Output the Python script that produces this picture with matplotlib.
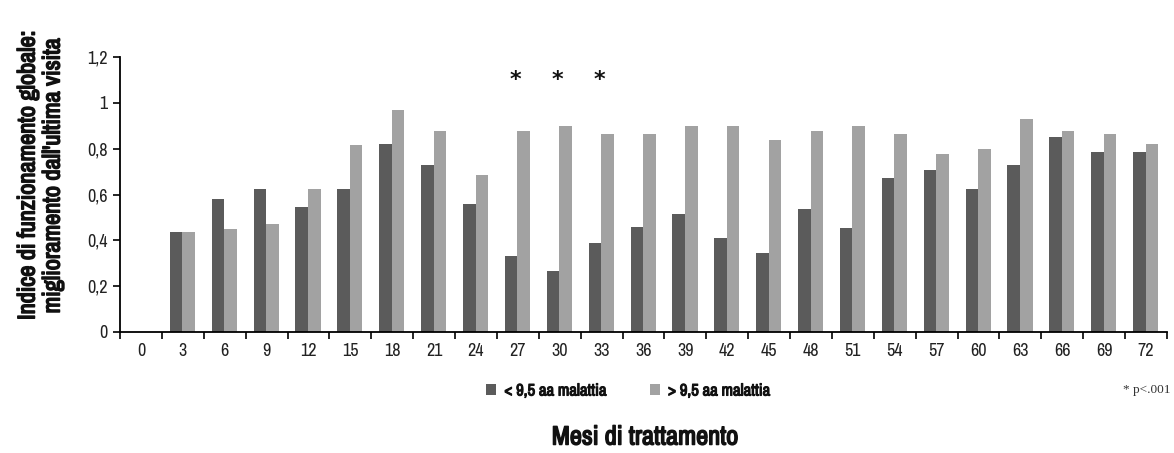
import matplotlib
matplotlib.use('Agg')
import matplotlib.pyplot as plt
import matplotlib.patheffects as pe
from matplotlib import font_manager
import numpy as np

months = [0, 3, 6, 9, 12, 15, 18, 21, 24, 27, 30, 33, 36, 39, 42, 45, 48, 51,
          54, 57, 60, 63, 66, 69, 72]
# < 9,5 anni di malattia
short = [0, 0.435, 0.58, 0.625, 0.545, 0.625, 0.82, 0.73, 0.56, 0.33, 0.265,
         0.39, 0.46, 0.515, 0.41, 0.345, 0.535, 0.455, 0.67, 0.705, 0.625,
         0.73, 0.85, 0.785, 0.785]
# > 9,5 anni di malattia
long_ = [0, 0.435, 0.45, 0.47, 0.625, 0.815, 0.97, 0.875, 0.685, 0.875, 0.90,
         0.865, 0.865, 0.90, 0.90, 0.84, 0.875, 0.90, 0.865, 0.775, 0.80,
         0.93, 0.875, 0.865, 0.82]
signif = [27, 30, 33]
yticks = [0, 0.2, 0.4, 0.6, 0.8, 1.0, 1.2]
ylabels = ['0', '0,2', '0,4', '0,6', '0,8', '1', '1,2']

# pick a condensed face if one is installed
names = sorted({f.name for f in font_manager.fontManager.ttflist})
cond = [n for n in names if 'Narrow' in n or 'Condensed' in n]
narrow = cond[:1] + ['DejaVu Sans']
stretch = 'condensed'
# the narrow face has no bold, so thicken it with a stroke
bold = [pe.withStroke(linewidth=1.1, foreground='#111111')]
dark = '#5b5b5b'
light = '#a2a2a2'

fig = plt.figure(figsize=(11.74, 4.53), dpi=100)
ax = fig.add_axes([120 / 1174, 1 - 332 / 453, 1047 / 1174, 275 / 453])

x = np.arange(len(months))
w = 0.30
ax.bar(x - w / 2 - 0.01, short, w, color=dark, label='< 9,5 aa malattia')
ax.bar(x + w / 2 - 0.01, long_, w, color=light, label='> 9,5 aa malattia')

for m in signif:
    i = months.index(m)
    ax.text(i - 0.05, 1.10, '*', ha='center', va='center', fontsize=16,
            fontweight='bold', color='#111111')

ax.set_xlim(-0.5, len(months) - 0.5)
ax.set_ylim(0, 1.2)
ax.set_yticks(yticks)
ax.set_yticklabels(ylabels, family=narrow, fontsize=13, color='#222222',
                   fontstretch=stretch)
ax.set_xticks(np.arange(len(months) + 1) - 0.5)
ax.set_xticklabels([])
ax.set_xticks(x, minor=True)
ax.set_xticklabels([str(m) for m in months], minor=True, family=narrow,
                   fontsize=13, color='#222222', fontstretch=stretch)
ax.tick_params(axis='x', which='major', length=5, width=1.2, direction='out')
ax.tick_params(axis='x', which='minor', length=0, pad=8)
ax.tick_params(axis='y', length=5, width=1.2, direction='out', pad=4)
ax.spines['top'].set_visible(False)
ax.spines['right'].set_visible(False)
ax.spines['left'].set_linewidth(1.3)
ax.spines['bottom'].set_linewidth(1.3)

ylab = ['Indice di funzionamento globale:', "miglioramento dall'ultima visita"]
for lx, txt in zip([28, 53], ylab):
    fig.text(lx / 1174, 1 - 175 / 453, txt, rotation=90, ha='center',
             va='center', fontsize=17.5, family=narrow, fontstretch=stretch,
             color='#111111', path_effects=bold)
fig.text(645 / 1174, 1 - 437 / 453, 'Mesi di trattamento', ha='center',
         va='center', fontsize=19, family=narrow, fontstretch=stretch,
         color='#111111', path_effects=bold)
fig.text(1147 / 1174, 1 - 390 / 453, '* p<.001', ha='center', va='center',
         fontsize=9.5, family=['Liberation Serif', 'DejaVu Serif'],
         color='#333333')

leg = ax.legend(loc='center', bbox_to_anchor=(628 / 1174, 1 - 391 / 453),
                bbox_transform=fig.transFigure, ncol=2, frameon=False,
                handlelength=0.6, handleheight=0.6, handletextpad=0.5,
                columnspacing=2.6,
                prop={'family': narrow, 'size': 12, 'stretch': stretch})
for t in leg.get_texts():
    t.set_color('#111111')
    t.set_path_effects([pe.withStroke(linewidth=0.8, foreground='#111111')])

fig.savefig('out.png', dpi=100)
